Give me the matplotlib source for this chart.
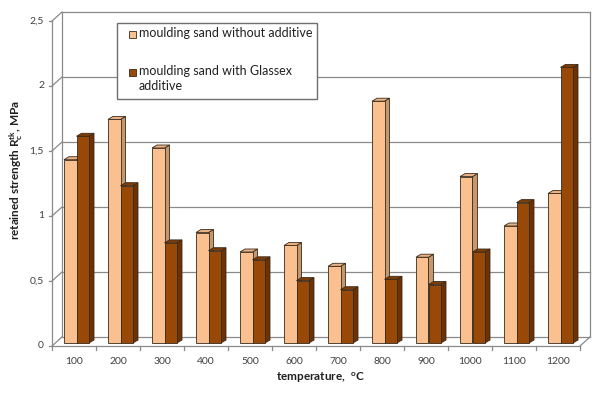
import matplotlib
matplotlib.use("Agg")
import matplotlib.pyplot as plt
from matplotlib.patches import Polygon, Rectangle
import numpy as np

plt.rcParams['font.family'] = ['Lato', 'DejaVu Sans']
plt.rcParams['mathtext.fontset'] = 'custom'
plt.rcParams['mathtext.rm'] = 'Lato:bold'
plt.rcParams['mathtext.it'] = 'Lato:bold'
plt.rcParams['mathtext.bf'] = 'Lato:bold'

# ---- data ----
categories = ["100", "200", "300", "400", "500", "600", "700", "800", "900", "1000", "1100", "1200"]
without_additive = [1.41, 1.72, 1.50, 0.85, 0.70, 0.75, 0.59, 1.86, 0.66, 1.28, 0.90, 1.15]
with_glassex = [1.59, 1.21, 0.77, 0.71, 0.64, 0.48, 0.41, 0.49, 0.45, 0.70, 1.08, 2.12]
y_ticks = [0, 0.5, 1, 1.5, 2, 2.5]
y_tick_labels = ["0", "0,5", "1", "1,5", "2", "2,5"]
series_names = ["moulding sand without additive", "moulding sand with Glassex\nadditive"]

# ---- style ----
W, H = 605, 395
fig = plt.figure(figsize=(W / 100, H / 100), dpi=100)
ax_left_px, ax_right_px, ax_bottom_px, ax_top_px = 52, 580, 343, 18
ax = fig.add_axes([ax_left_px / W, 1 - ax_bottom_px / H,
                   (ax_right_px - ax_left_px) / W, (ax_bottom_px - ax_top_px) / H])
n = len(categories)
ymax = 2.5
ax.set_xlim(0, n)
ax.set_ylim(0, ymax)
ax.axis('off')

px = n / (ax_right_px - ax_left_px)          # x data units per pixel
py = ymax / (ax_bottom_px - ax_top_px)       # y data units per pixel

grid_c = '#8a8a8a'
front_dy = -3 * py
back_dx, back_dy = 10 * px, 6 * py

# back wall gridlines
for v, lab in zip(y_ticks, y_tick_labels):
    ax.plot([back_dx, n + back_dx], [v + back_dy, v + back_dy], color=grid_c, lw=0.9, clip_on=False, zorder=1)
    ax.plot([0, back_dx], [v + front_dy, v + back_dy], color=grid_c, lw=0.9, clip_on=False, zorder=1)
    ax.plot([-3 * px, 0], [v + front_dy, v + front_dy], color=grid_c, lw=0.9, clip_on=False, zorder=1)
    ax.text(-8 * px, v + front_dy, lab, ha='right', va='center', fontsize=7.5, color='#404040')

for xx in [back_dx, n + back_dx]:
    ax.plot([xx, xx], [back_dy, ymax + back_dy], color=grid_c, lw=0.9, clip_on=False, zorder=1)
ax.plot([0, 0], [front_dy, ymax + front_dy], color=grid_c, lw=0.9, clip_on=False, zorder=1)
ax.plot([0, n], [front_dy, front_dy], color=grid_c, lw=0.9, clip_on=False, zorder=1)
ax.plot([n, n + back_dx], [front_dy, back_dy], color=grid_c, lw=0.9, clip_on=False, zorder=1)
for i in range(n + 1):
    ax.plot([i, i], [front_dy, front_dy - 4 * py], color=grid_c, lw=0.9, clip_on=False, zorder=1)
for i, c in enumerate(categories):
    ax.text(i + 0.5, front_dy - 16 * py, c, ha='center', va='center', fontsize=7.5, color='#404040')

# bars
face = ['#FAC090', '#984807']
side = ['#C4976E', '#6A3206']
top = ['#E8B285', '#7E3C06']
edge = '#3a2a1a'
bw = 12.5 * px
starts = [12 * px, 24.5 * px]
ddx, ddy = 5 * px, 3 * py
for i in range(n):
    for s, vals in enumerate([without_additive, with_glassex]):
        h = vals[i]
        x0 = i + starts[s]
        z = 3 + i * 2 + s
        ax.add_patch(Polygon([(x0 + bw, 0), (x0 + bw + ddx, ddy), (x0 + bw + ddx, h + ddy), (x0 + bw, h)],
                             closed=True, fc=side[s], ec=edge, lw=0.6, zorder=z, clip_on=False))
        ax.add_patch(Polygon([(x0, h), (x0 + ddx, h + ddy), (x0 + bw + ddx, h + ddy), (x0 + bw, h)],
                             closed=True, fc=top[s], ec=edge, lw=0.6, zorder=z, clip_on=False))
        ax.bar(x0, h, width=bw, align='edge', color=face[s], edgecolor=edge, lw=0.6, zorder=z, clip_on=False)

# legend (manual, Excel-like)
lx, ly, lw_, lh = 117, 23, 200, 76
fig.patches.append(Rectangle((lx / W, 1 - (ly + lh) / H), lw_ / W, lh / H, transform=fig.transFigure,
                             fc='white', ec='#6f6f6f', lw=1.0, zorder=20))
for k, (name, yy) in enumerate(zip(series_names, [34, 72])):
    fig.patches.append(Rectangle((129 / W, 1 - (yy + 3.5) / H), 7 / W, 7 / H, transform=fig.transFigure,
                                 fc=face[k], ec=edge, lw=0.6, zorder=21))
    fig.text(139 / W, 1 - (yy - 7) / H, name, ha='left', va='top',
             fontsize=9, color='#202020', zorder=22, linespacing=1.3)

# axis titles
fig.text(16 / W, 1 - 170 / H, r"retained strength R$_{c}^{tk}$, MPa", rotation=90, ha='center', va='center',
         fontsize=8.5, fontweight='bold', color='#202020')
fig.text(320 / W, 1 - 378 / H, r"temperature,  $^{o}$C", ha='center', va='center',
         fontsize=8.5, fontweight='bold', color='#202020')

fig.savefig('out.png', dpi=100)
